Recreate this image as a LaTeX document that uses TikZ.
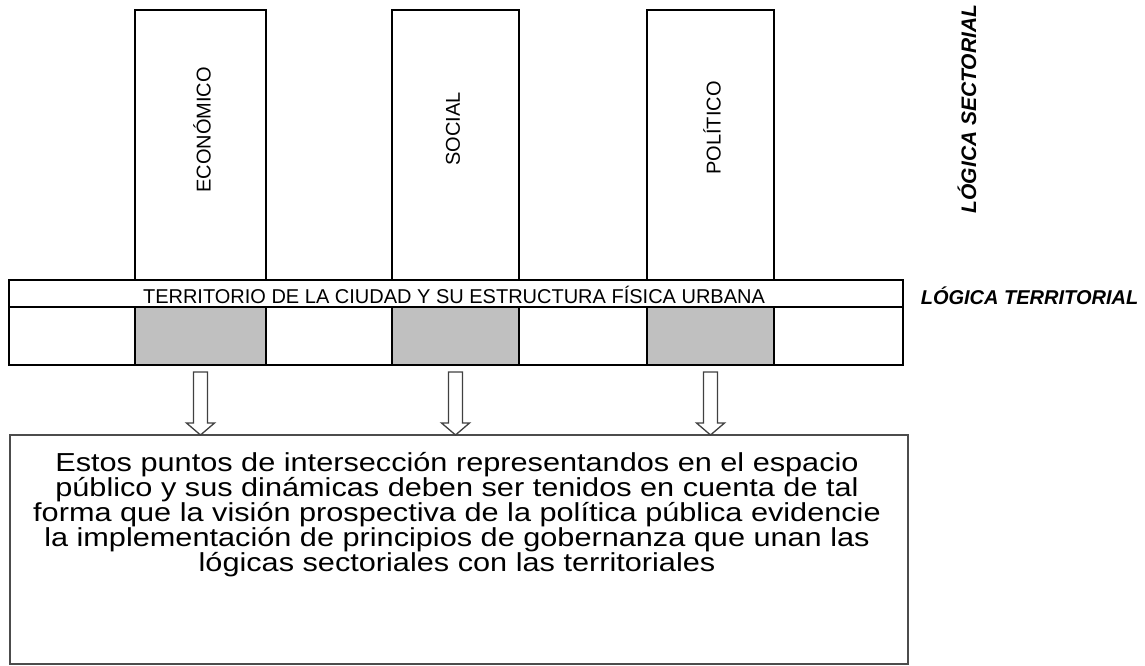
\documentclass[tikz,border=0pt]{standalone}
\usepackage{fontspec}
\setmainfont{Liberation Sans}
\newfontfamily\widefont[FakeStretch=1.18]{Liberation Sans}
\begin{document}
\begin{tikzpicture}[x=1pt,y=-1pt,
  colbox/.style={draw=black, line width=2pt, minimum width=#1, minimum height=355pt, inner sep=0pt},
  grayfill/.style={fill=graycell, draw=none, minimum width=#1, minimum height=58pt, inner sep=0pt},
  rowbox/.style={draw=black, line width=2pt, fill=white, minimum width=894pt, inner sep=0pt},
  collabel/.style={rotate=90, font=\fontsize{20}{24}\selectfont, inner sep=0pt},
  sidelabel/.style={font=\fontsize{20}{24}\selectfont\bfseries\itshape, inner sep=0pt},
  arrowline/.style={draw=black!75, line width=1.3pt, fill=white, line join=miter},
  blockarr/.pic={\path[arrowline] (-7,0) -- (7,0) -- (7,51) -- (14,51) -- (0,63) -- (-14,51) -- (-7,51) -- cycle;},
  outbox/.style={draw=black!70, line width=1.8pt, minimum width=898pt, minimum height=229pt, inner sep=0pt},
  bodytext/.style={font=\widefont\fontsize{26}{25}\selectfont, align=center, inner sep=0pt}
]
\definecolor{graycell}{RGB}{192,192,192}
\useasboundingbox (0,0) rectangle (1145,666);
% gray intersection cells
\node[grayfill=131pt] (g1) at (200.5,336) {};
\node[grayfill=127pt] (g2) at (455.5,336) {};
\node[grayfill=127pt] (g3) at (710.5,336) {};
% sector columns
\node[colbox=131pt] (eco) at (200.5,187.5) {};
\node[colbox=127pt] (soc) at (455.5,187.5) {};
\node[colbox=127pt] (pol) at (710.5,187.5) {};
\node[collabel] (ecoL) at (202,130) {ECONÓMICO};
\node[collabel] (socL) at (453,129) {SOCIAL};
\node[collabel] (polL) at (712,128) {POLÍTICO};
% territorial bar
\node[rowbox, fill=none, minimum height=58pt] (barlow) at (456,336) {};
\node[rowbox, minimum height=27pt, line width=1.5pt] (bartext) at (456,293.5) {};
\node[font=\fontsize{20}{24}\selectfont, inner sep=0pt] (barlabel) at (454,295)
  {TERRITORIO DE LA CIUDAD Y SU ESTRUCTURA FÍSICA URBANA};
% side labels
\node[sidelabel, rotate=90, font=\fontsize{21}{24}\selectfont\bfseries\itshape] (sect) at (967,109) {LÓGICA SECTORIAL};
\node[sidelabel] (terr) at (1029.5,296) {LÓGICA TERRITORIAL};
% bottom box
\node[outbox] (box) at (459,549.5) {};
\node[bodytext, anchor=north] (boxtext) at (457,452)
  {Estos puntos de intersección representandos en el espacio\\
   público y sus dinámicas deben ser tenidos en cuenta de tal\\
   forma que la visión prospectiva de la política pública evidencie\\
   la implementación de principios de gobernanza que unan las\\
   lógicas sectoriales con las territoriales};
% block arrows from the bar to the box
\coordinate (a1) at (g1.south |- 0,372);
\coordinate (a2) at (g2.south |- 0,372);
\coordinate (a3) at (g3.south |- 0,372);
\pic at (a1) {blockarr};
\pic at (a2) {blockarr};
\pic at (a3) {blockarr};
\end{tikzpicture}
\end{document}
